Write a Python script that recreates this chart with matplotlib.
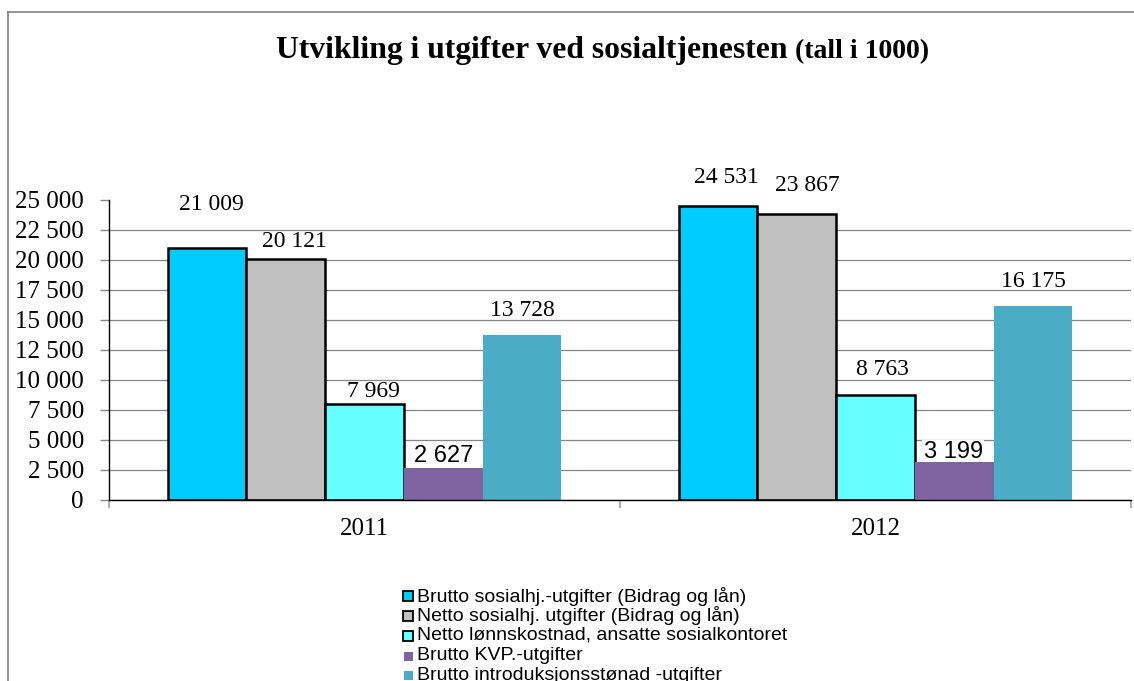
import matplotlib
matplotlib.use("Agg")
import matplotlib.pyplot as plt
from matplotlib.patches import Rectangle
from matplotlib.lines import Line2D
from matplotlib.ticker import FixedLocator, FuncFormatter

# ---- data ----
years = ["2011", "2012"]
series_names = [
    "Brutto sosialhj.-utgifter (Bidrag og lån)",
    "Netto sosialhj. utgifter (Bidrag og lån)",
    "Netto lønnskostnad, ansatte sosialkontoret",
    "Brutto KVP.-utgifter",
    "Brutto introduksjonsstønad -utgifter",
]
brutto_sosialhjelp = [21009, 24531]
netto_sosialhjelp = [20121, 23867]
netto_lonnskostnad = [7969, 8763]
brutto_kvp = [2627, 3199]
brutto_intro = [13728, 16175]
yticks = [0, 2500, 5000, 7500, 10000, 12500, 15000, 17500, 20000, 22500, 25000]

title_main = "Utvikling i utgifter ved sosialtjenesten"
title_sub = "(tall i 1000)"

series = [brutto_sosialhjelp, netto_sosialhjelp, netto_lonnskostnad, brutto_kvp, brutto_intro]

# ---- style ----
colors = ["#00CCFF", "#C0C0C0", "#66FFFF", "#8064A2", "#4BACC6"]
edged = [True, True, True, False, False]
label_sans = [False, False, False, True, False]
# label offsets above bar tops (pixels): (dx, dy) per series per year
label_dy = [[43, 28], [17, 28], [12.5, 25], [12.5, 9.5], [25, 24.5]]
label_dx = [[4.5, 8.5], [8.5, 10.5], [8.5, 7], [0, -1], [0, 0]]

W, H = 1134, 681
DPI = 100
fig = plt.figure(figsize=(W / DPI, H / DPI), dpi=DPI)
fig.patch.set_facecolor("white")

serif = "Liberation Serif"
sans = "Liberation Sans"

def fx(px):
    return px / W

def fy(py):
    return 1 - py / H

ax = fig.add_axes([fx(109), fy(500), (1131 - 109) / W, 300 / H])
ax.set_xlim(-0.5, 1.5)
ax.set_ylim(0, 25000)

bw = 0.1542
xs = list(range(len(years)))
for i, vals in enumerate(series):
    pos = [x + (i - 2) * bw for x in xs]
    if edged[i]:
        ax.bar(pos, vals, width=bw, color=colors[i], edgecolor="black",
               linewidth=1.8, zorder=3)
    else:
        ax.bar(pos, vals, width=bw, color=colors[i], edgecolor="none",
               linewidth=0, zorder=3)
    for j, (p, v) in enumerate(zip(pos, vals)):
        txt = f"{v:,}".replace(",", " ")
        kw = dict(family=sans if label_sans[i] else serif, fontsize=17, zorder=5)
        if label_sans[i]:
            kw["bbox"] = dict(facecolor="white", edgecolor="none", pad=1.0)
            kw["zorder"] = 2.5
        ax.annotate(txt, (p, v), xytext=(label_dx[i][j] * 0.72, label_dy[i][j] * 0.72),
                    textcoords="offset points", ha="center", va="center", **kw)

# axes styling
for s in ["top", "right"]:
    ax.spines[s].set_visible(False)
for s in ["left", "bottom"]:
    ax.spines[s].set_color("black")
    ax.spines[s].set_linewidth(1.0)
    ax.spines[s].set_zorder(4)

ax.yaxis.set_major_locator(FixedLocator(yticks))
ax.yaxis.set_major_formatter(FuncFormatter(lambda v, p: f"{int(v):,}".replace(",", " ")))
ax.tick_params(axis="y", which="major", length=6.5, width=1, color="#868686",
               pad=11.5, labelsize=18, direction="out")
for lab in ax.get_yticklabels():
    lab.set_family(serif)
ax.yaxis.grid(True, color="#868686", linewidth=0.9, zorder=0)
ax.set_axisbelow(True)
gl = ax.yaxis.get_gridlines()
gl[-1].set_visible(False)

ax.set_xticks(xs)
ax.set_xticklabels(years, family=serif, fontsize=18)
ax.set_xticks([-0.5, 0.5, 1.5], minor=True)
ax.tick_params(axis="x", which="major", length=0, pad=13)
ax.tick_params(axis="x", which="minor", length=6, width=1.2, color="#A0A0A0", direction="out")

# title
fig.text(fx(276), fy(58), title_main, fontsize=22.8, fontweight="bold",
         family=serif, va="baseline", ha="left")
fig.text(fx(795), fy(58), title_sub, fontsize=20, fontweight="bold",
         family=serif, va="baseline", ha="left")

# outer frame
fig.add_artist(Line2D([fx(8), fx(8)], [0, fy(12)], color="#808080", linewidth=1.2,
                      transform=fig.transFigure))
fig.add_artist(Line2D([fx(8), 1], [fy(12), fy(12)], color="#808080", linewidth=1.2,
                      transform=fig.transFigure))

# legend (manual, runs off the figure bottom as in the reference)
row_y = [596, 615.5, 635.5, 656, 675.5]
for i, name in enumerate(series_names):
    yc = row_y[i]
    if edged[i]:
        sz = 10
        fig.add_artist(Rectangle((fx(403), fy(yc + sz / 2)), sz / W, sz / H,
                                 facecolor=colors[i], edgecolor="black", linewidth=1.3,
                                 transform=fig.transFigure))
    else:
        sz = 9
        fig.add_artist(Rectangle((fx(404), fy(yc + sz / 2)), sz / W, sz / H,
                                 facecolor=colors[i], edgecolor="none",
                                 transform=fig.transFigure))
    fig.text(fx(417), fy(yc), name, fontsize=14, family=sans, va="center", ha="left")

fig.savefig("out.png", dpi=DPI)
